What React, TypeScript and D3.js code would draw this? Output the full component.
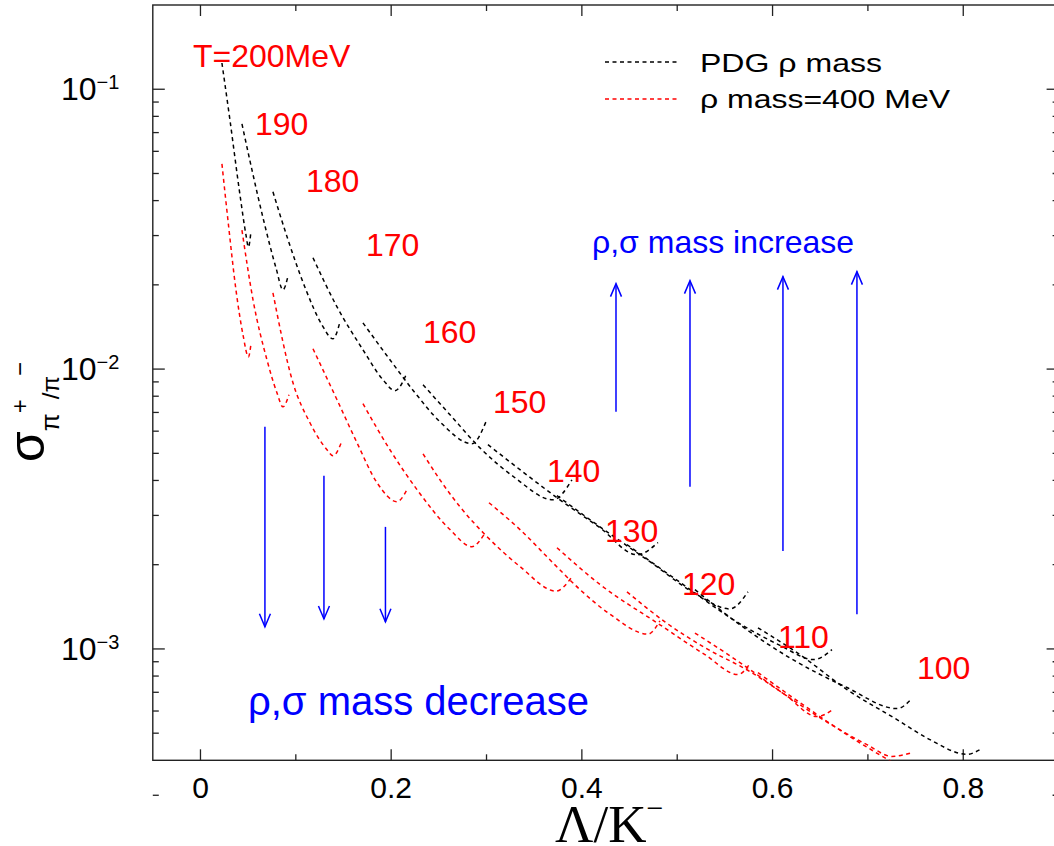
import React from 'react';
import * as d3 from 'd3';

// ---- data (x = Lambda/K-, y = sigma ratio) ----
const temperatures = [200, 190, 180, 170, 160, 150, 140, 130, 120, 110, 100];

// PDG rho mass curves
const pdg200 = [[0.0225, 0.1241], [0.0309, 0.0777], [0.0414, 0.042], [0.0477, 0.0302], [0.0503, 0.0273], [0.053, 0.0312]];
const pdg190 = [[0.0435, 0.0752], [0.054, 0.0515], [0.0666, 0.0336], [0.0792, 0.023], [0.0865, 0.0192], [0.0918, 0.0215]];
const pdg180 = [[0.076, 0.043], [0.0918, 0.029], [0.1106, 0.0192], [0.1274, 0.01439], [0.139, 0.01283], [0.1463, 0.01475]];
const pdg170 = [[0.118, 0.025], [0.1432, 0.01669], [0.1704, 0.01172], [0.1914, 0.00916], [0.204, 0.00837], [0.2166, 0.0097]];
const pdg160 = [[0.1704, 0.01463], [0.1987, 0.0108], [0.225, 0.00823], [0.2512, 0.00648], [0.2847, 0.00541], [0.2994, 0.00648]];
const pdg150 = [[0.2334, 0.00879], [0.2617, 0.00687], [0.2931, 0.00523], [0.3298, 0.00409], [0.3697, 0.00341], [0.3896, 0.00402]];
const pdg140 = [[0.3015, 0.00537], [0.3351, 0.00437], [0.377, 0.00341], [0.419, 0.00271], [0.4578, 0.00217], [0.4798, 0.0024]];
const pdg130 = [[0.3739, 0.00353], [0.419, 0.00273], [0.4714, 0.00205], [0.5186, 0.00158], [0.5553, 0.00139], [0.5742, 0.0016]];
const pdg120 = [[0.4473, 0.00236], [0.5029, 0.00173], [0.5658, 0.00123], [0.6078, 0.00103], [0.6434, 0.000916], [0.6623, 0.000994]];
const pdg110 = [[0.5186, 0.00163], [0.5658, 0.00122], [0.6177, 0.000931], [0.678, 0.000728], [0.7305, 0.000612], [0.7462, 0.000665]];
const pdg100 = [[0.5847, 0.00119], [0.6287, 0.000954], [0.678, 0.000716], [0.7305, 0.000559], [0.7651, 0.000474], [0.8039, 0.00042], [0.8175, 0.000437]];

// rho mass = 400 MeV curves
const rho200 = [[0.0225, 0.0541], [0.0288, 0.0341], [0.0372, 0.0192], [0.0446, 0.01326], [0.0503, 0.01106], [0.053, 0.01232]];
const rho190 = [[0.0435, 0.0314], [0.0551, 0.01768], [0.0697, 0.0108], [0.0802, 0.00823], [0.0865, 0.00733], [0.0928, 0.0081]];
const rho180 = [[0.076, 0.01873], [0.097, 0.00894], [0.1148, 0.00643], [0.1327, 0.00515], [0.139, 0.0049], [0.1484, 0.00554]];
const rho170 = [[0.118, 0.01182], [0.1432, 0.00777], [0.1641, 0.00546], [0.1851, 0.00393], [0.2061, 0.00336], [0.2166, 0.00371]];
const rho160 = [[0.1704, 0.00752], [0.1987, 0.00515], [0.2271, 0.00371], [0.2617, 0.00267], [0.2847, 0.00232], [0.2973, 0.00256]];
const rho150 = [[0.2334, 0.00498], [0.2512, 0.00402], [0.2722, 0.00322], [0.3005, 0.00252], [0.3351, 0.00197], [0.3728, 0.00161], [0.3896, 0.00181]];
const rho140 = [[0.3026, 0.00333], [0.3351, 0.00267], [0.3697, 0.00203], [0.398, 0.00163], [0.4295, 0.00133], [0.4693, 0.00113], [0.4819, 0.00126]];
const rho130 = [[0.3739, 0.0023], [0.419, 0.0017], [0.4819, 0.00122], [0.5291, 0.000954], [0.5637, 0.00081], [0.5763, 0.000886]];
const rho120 = [[0.4473, 0.0016], [0.4871, 0.00125], [0.5291, 0.00101], [0.5763, 0.00083], [0.613, 0.000687], [0.6466, 0.000573], [0.6633, 0.000607]];
const rho110 = [[0.5186, 0.00114], [0.5658, 0.000894], [0.613, 0.000687], [0.6529, 0.000559], [0.699, 0.000455], [0.7252, 0.000413], [0.7462, 0.000426]];
const rho100 = [[0.5847, 0.000823], [0.6287, 0.000643], [0.678, 0.000494], [0.7388, 0.000371]];

const pdgCurves = [pdg200, pdg190, pdg180, pdg170, pdg160, pdg150, pdg140, pdg130, pdg120, pdg110, pdg100];
const rhoCurves = [rho200, rho190, rho180, rho170, rho160, rho150, rho140, rho130, rho120, rho110, rho100];

// temperature labels (anchored in data space: left x, baseline y)
const tempLabelText = ['T=200MeV', '190', '180', '170', '160', '150', '140', '130', '120', '110', '100'];
const tempLabelX = [-0.0079, 0.0572, 0.1106, 0.1736, 0.2334, 0.3068, 0.3634, 0.4242, 0.505, 0.6056, 0.7514];
const tempLabelY = [0.1202, 0.06866, 0.043, 0.02538, 0.01241, 0.00698, 0.003958, 0.002416, 0.001562, 0.001011, 0.000783];

// blue arrows
const downArrowX = [0.0676, 0.1295, 0.194];
const downArrowFrom = [0.00622, 0.00416, 0.00273];
const downArrowTo = [0.0012, 0.00128, 0.00125];
const upArrowX = [0.4358, 0.5134, 0.6109, 0.6885];
const upArrowFrom = [0.00704, 0.0038, 0.00224, 0.00133];
const upArrowTo = [0.0202, 0.0207, 0.0214, 0.0223];

// axes
const xMajorTicks = [0, 0.2, 0.4, 0.6, 0.8];
const xMinorTicks = [0.1, 0.3, 0.5, 0.7];
const xTickLabels = ['0', '0.2', '0.4', '0.6', '0.8'];
const yMajorTicks = [1e-3, 1e-2, 1e-1];
const yTickExponents = ['−3', '−2', '−1'];
const yMinorTicks = [3e-4, 5e-4, 6e-4, 7e-4, 8e-4, 9e-4,
  2e-3, 3e-3, 4e-3, 5e-3, 6e-3, 7e-3, 8e-3, 9e-3,
  2e-2, 3e-2, 4e-2, 5e-2, 6e-2, 7e-2, 8e-2, 9e-2];

export default function App() {
  const W = 1054, H = 846;
  const L = 152.8, R = 1058.6, T = 5, B = 760.3;
  const x = d3.scaleLinear().domain([-0.05, 0.9]).range([L, R]);
  const y = d3.scaleLog().domain([4e-4, 0.2]).range([B, T]);
  const line = d3.line<number[]>().x(d => x(d[0])).y(d => y(d[1])).curve(d3.curveMonotoneX);

  const axisColor = '#222';
  const dash = '4 3.5';
  const sans = "'Liberation Sans', Arial, Helvetica, sans-serif";

  return (
    <svg width={W} height={H} style={{ position: 'absolute', left: 0, top: 0, background: '#fff' }} fontFamily={sans}>
      <defs>
        <clipPath id="plotClip">
          <rect x={L} y={T} width={R - L} height={B - T} />
        </clipPath>
      </defs>
      <rect x={0} y={0} width={W} height={H} fill="#fff" />

      {/* frame */}
      <rect x={L} y={T} width={R - L} height={B - T} fill="none" stroke={axisColor} strokeWidth={1.4} />

      {/* x ticks bottom & top */}
      {xMajorTicks.map(v => (
        <g key={'xm' + v}>
          <line x1={x(v)} x2={x(v)} y1={B} y2={B - 11} stroke={axisColor} strokeWidth={1.3} />
          <line x1={x(v)} x2={x(v)} y1={T} y2={T + 11} stroke={axisColor} strokeWidth={1.3} />
        </g>
      ))}
      {xMinorTicks.map(v => (
        <g key={'xn' + v}>
          <line x1={x(v)} x2={x(v)} y1={B} y2={B - 6} stroke={axisColor} strokeWidth={1.3} />
          <line x1={x(v)} x2={x(v)} y1={T} y2={T + 6} stroke={axisColor} strokeWidth={1.3} />
        </g>
      ))}
      {xMajorTicks.map((v, i) => (
        <text key={'xl' + v} x={x(v)} y={798} fontSize={30} textAnchor="middle" fill="#000">{xTickLabels[i]}</text>
      ))}

      {/* y ticks left & right */}
      {yMajorTicks.map(v => (
        <g key={'ym' + v}>
          <line x1={L} x2={L + 12} y1={y(v)} y2={y(v)} stroke={axisColor} strokeWidth={1.3} />
          <line x1={R} x2={R - 12} y1={y(v)} y2={y(v)} stroke={axisColor} strokeWidth={1.3} />
        </g>
      ))}
      {yMinorTicks.map(v => (
        <g key={'yn' + v}>
          <line x1={L} x2={L + 6} y1={y(v)} y2={y(v)} stroke={axisColor} strokeWidth={1.3} />
          <line x1={R} x2={R - 6} y1={y(v)} y2={y(v)} stroke={axisColor} strokeWidth={1.3} />
        </g>
      ))}
      {yMajorTicks.map((v, i) => (
        <text key={'yl' + v} x={61} y={y(v) + 11} fontSize={32} fill="#000">
          10<tspan fontSize={20} dy={-11}>{yTickExponents[i]}</tspan>
        </text>
      ))}

      {/* axis titles */}
      <text x={555} y={842} fontFamily="'Liberation Serif', 'Times New Roman', serif" fontSize={53} fill="#000">
        Λ/K<tspan fontSize={30} dy={-24}>−</tspan>
      </text>
      <text transform="translate(44,462) rotate(-90)" fill="#000">
        <tspan fontSize={50}>σ</tspan>
        <tspan fontSize={26} dy={15}>π</tspan>
        <tspan fontSize={24} dy={-31}>+</tspan>
        <tspan fontSize={24} dy={31}>/π</tspan>
        <tspan fontSize={24} dy={-31}>−</tspan>
      </text>

      {/* curves */}
      <g clipPath="url(#plotClip)" fill="none" strokeWidth={1.5} strokeDasharray={dash}>
        {pdgCurves.map((c, i) => (
          <path key={'pdg' + temperatures[i]} d={line(c) || ''} stroke="#000" />
        ))}
        {rhoCurves.map((c, i) => (
          <path key={'rho' + temperatures[i]} d={line(c) || ''} stroke="#ff0000" />
        ))}
      </g>

      {/* temperature labels */}
      {tempLabelText.map((t, i) => (
        <text key={'tl' + i} x={x(tempLabelX[i])} y={y(tempLabelY[i])} fontSize={32} fill="#ff0000">{t}</text>
      ))}

      {/* arrows */}
      {downArrowX.map((v, i) => {
        const ax = x(v), y0 = y(downArrowFrom[i]), y1 = y(downArrowTo[i]);
        return (
          <g key={'da' + i} stroke="#0000ff" strokeWidth={1.5} fill="none">
            <line x1={ax} x2={ax} y1={y0} y2={y1} />
            <polyline points={`${ax - 5.5},${y1 - 13} ${ax},${y1} ${ax + 5.5},${y1 - 13}`} />
          </g>
        );
      })}
      {upArrowX.map((v, i) => {
        const ax = x(v), y0 = y(upArrowFrom[i]), y1 = y(upArrowTo[i]);
        return (
          <g key={'ua' + i} stroke="#0000ff" strokeWidth={1.5} fill="none">
            <line x1={ax} x2={ax} y1={y0} y2={y1} />
            <polyline points={`${ax - 5.5},${y1 + 13} ${ax},${y1} ${ax + 5.5},${y1 + 13}`} />
          </g>
        );
      })}
      <text x={592} y={253} fontSize={32} fill="#0000ff">ρ,σ mass increase</text>
      <text x={248} y={715} fontSize={40} fill="#0000ff">ρ,σ mass decrease</text>

      {/* legend */}
      <line x1={605} x2={680} y1={62} y2={62} stroke="#000" strokeWidth={1.5} strokeDasharray={dash} />
      <text x={700} y={72} fontSize={26} textLength={182} lengthAdjust="spacingAndGlyphs" fill="#000">PDG ρ mass</text>
      <line x1={605} x2={680} y1={99} y2={99} stroke="#ff0000" strokeWidth={1.5} strokeDasharray={dash} />
      <text x={700} y={108} fontSize={26} textLength={250} lengthAdjust="spacingAndGlyphs" fill="#000">ρ mass=400 MeV</text>
    </svg>
  );
}
